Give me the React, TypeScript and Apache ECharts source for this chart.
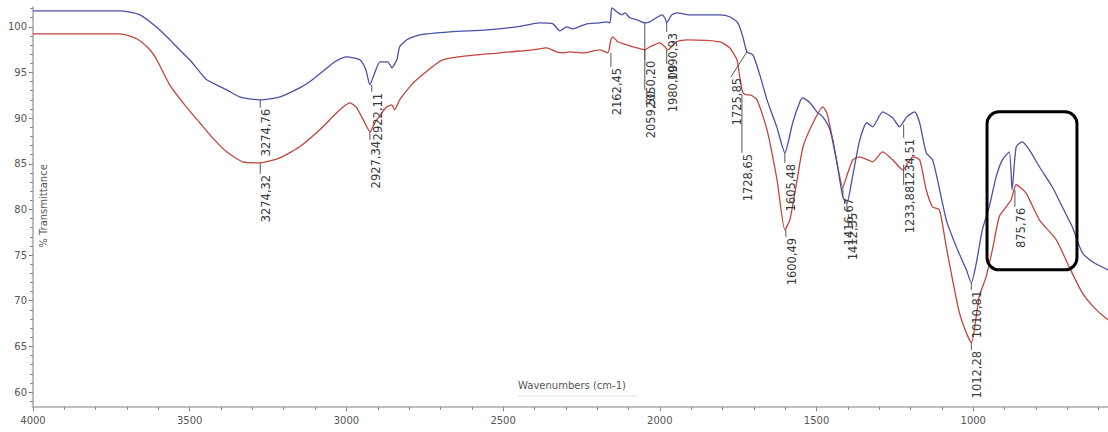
import React, { useEffect, useRef } from "react";
import * as echarts from "echarts";

// Spectrum 1 (blue) : [wavenumber cm-1, % transmittance]
const blueSpectrum: number[][] = [
  [4000, 101.75], [3723, 101.75], [3659, 101.31], [3596, 99.67], [3532, 97.48], [3500, 96.39],
  [3468, 95.07], [3446, 94.2], [3382, 93.1], [3341, 92.33], [3276, 92.0], [3212, 92.33],
  [3149, 93.32], [3117, 93.98], [3069, 95.29], [3037, 96.17], [2999, 96.71], [2957, 96.39],
  [2938, 95.29], [2925, 93.65], [2912, 94.74], [2893, 96.17], [2868, 96.17], [2855, 95.51],
  [2839, 96.39], [2830, 97.81], [2807, 98.58], [2766, 99.12], [2670, 99.45], [2552, 99.67],
  [2456, 100.0], [2383, 100.44], [2341, 100.33], [2319, 99.56], [2297, 100.0], [2278, 99.78],
  [2233, 100.33], [2191, 100.44], [2169, 100.55], [2159, 100.44], [2153, 102.08], [2137, 101.64],
  [2121, 101.31], [2111, 101.53], [2096, 100.99], [2073, 100.77], [2048, 100.44], [2032, 100.55],
  [2006, 101.1], [1994, 101.31], [1984, 100.99], [1978, 100.44], [1962, 101.31], [1946, 101.53],
  [1904, 101.31], [1808, 101.31], [1777, 101.1], [1751, 100.44], [1735, 98.9], [1722, 97.26],
  [1703, 96.93], [1681, 94.74], [1658, 92.0], [1626, 88.94], [1601, 86.2], [1576, 89.49],
  [1553, 91.79], [1544, 92.22], [1521, 91.68], [1499, 90.69], [1480, 90.14], [1457, 88.72],
  [1435, 85.1], [1416, 81.38], [1403, 80.72], [1387, 83.24], [1362, 87.62], [1340, 89.49],
  [1321, 89.05], [1289, 90.69], [1257, 90.03], [1235, 89.05], [1212, 90.14], [1187, 90.69],
  [1171, 89.49], [1150, 86.2], [1130, 85.43], [1114, 83.24], [1086, 78.86], [1054, 75.9],
  [1022, 73.38], [1006, 71.96], [990, 74.15], [971, 77.77], [949, 80.29], [927, 83.57],
  [907, 85.43], [885, 86.31], [876, 82.15], [863, 86.86], [844, 87.4], [821, 86.53],
  [789, 84.67], [748, 82.48], [716, 80.29], [684, 78.09], [652, 75.25], [620, 74.26], [570, 73.38],
];

// Spectrum 2 (red)
const redSpectrum: number[][] = [
  [4000, 99.23], [3723, 99.23], [3669, 98.69], [3627, 97.48], [3605, 96.39], [3564, 93.65],
  [3516, 91.46], [3468, 89.49], [3427, 87.84], [3382, 86.31], [3331, 85.21], [3276, 85.1],
  [3212, 85.65], [3149, 86.86], [3085, 88.72], [3021, 90.91], [2989, 91.68], [2967, 91.13],
  [2935, 89.05], [2925, 88.5], [2909, 89.49], [2887, 90.58], [2871, 91.24], [2855, 91.46],
  [2846, 90.91], [2830, 92.0], [2798, 93.43], [2776, 94.2], [2692, 96.39], [2510, 97.15],
  [2405, 97.48], [2361, 97.7], [2329, 97.26], [2310, 97.15], [2287, 97.26], [2245, 97.15],
  [2191, 97.48], [2166, 97.15], [2156, 98.58], [2150, 98.9], [2134, 98.36], [2105, 98.03],
  [2073, 97.7], [2048, 97.48], [2032, 97.81], [2000, 98.25], [1984, 97.81], [1975, 97.48],
  [1946, 98.36], [1914, 98.58], [1808, 98.36], [1777, 97.7], [1754, 96.39], [1745, 94.52],
  [1735, 92.77], [1722, 92.55], [1713, 92.55], [1690, 92.0], [1658, 88.72], [1626, 83.24],
  [1601, 77.77], [1585, 78.86], [1562, 83.24], [1543, 86.86], [1511, 89.49], [1480, 91.24],
  [1467, 90.58], [1448, 87.62], [1416, 82.48], [1400, 84.01], [1384, 85.43], [1362, 85.76],
  [1321, 85.21], [1289, 86.31], [1257, 85.43], [1225, 84.34], [1193, 85.76], [1171, 85.43],
  [1150, 82.15], [1130, 80.29], [1108, 79.96], [1086, 75.9], [1066, 72.29], [1044, 68.67],
  [1022, 66.48], [1006, 65.39], [981, 70.43], [959, 72.62], [939, 75.57], [917, 79.19],
  [895, 80.29], [879, 81.05], [863, 82.7], [832, 81.82], [789, 78.86], [735, 76.67],
  [694, 73.71], [652, 70.87], [607, 69.0], [570, 67.91],
];

// Peak annotations
const peakText = [
  "3274,76", "3274,32", "2922,11", "2927,34", "2162,45", "2050,20", "2059,50",
  "1990,93", "1980,00", "1725,85", "1728,65", "1605,48", "1600,49", "1412,35",
  "1416,67", "1234,51", "1233,88", "1010,81", "1012,28", "875,76",
];
// wavenumber where the marker line leaves the curve
const peakWave = [3275, 3275, 2919, 2925, 2156, 2048, 2048, 1978, 1978, 1722, 1738, 1601, 1598, 1403, 1416, 1222, 1222, 1006, 1006, 867];
// %T of the curve at that point
const peakCurveT = [92.0, 85.1, 93.65, 88.5, 97.15, 100.44, 97.48, 100.44, 97.48, 97.26, 92.55, 86.2, 77.77, 80.72, 82.48, 89.27, 84.9, 71.96, 65.39, 82.15];
// wavenumber where the marker line meets the label
const peakLabelWave = [3275, 3275, 2919, 2925, 2156, 2048, 2048, 1978, 1978, 1773, 1738, 1601, 1598, 1403, 1416, 1222, 1222, 1006, 1006, 867];
// %T of the top of the label
const peakLabelT = [91.13, 83.9, 92.88, 87.62, 95.62, 96.39, 93.1, 99.45, 95.95, 94.52, 86.2, 85.1, 77.0, 79.74, 81.38, 87.84, 82.7, 71.2, 64.62, 80.29];

// highlighted region (rounded box): [wave left, wave right], [%T top, %T bottom]
const boxWave = [956, 669];
const boxT = [90.69, 73.38];

const xMajorTicks = [4000, 3500, 3000, 2500, 2000, 1500, 1000];
const xMinorTicks = [
  4000, 3900, 3800, 3700, 3600, 3500, 3400, 3300, 3200, 3100, 3000, 2900, 2800, 2700, 2600,
  2500, 2400, 2300, 2200, 2100, 2000, 1900, 1800, 1700, 1600, 1500, 1400, 1300, 1200, 1100,
  1000, 900, 800, 700, 600,
];
const yMajorTicks = [60, 65, 70, 75, 80, 85, 90, 95, 100];
const yMinorTicks = [
  59, 60, 61, 62, 63, 64, 65, 66, 67, 68, 69, 70, 71, 72, 73, 74, 75, 76, 77, 78, 79, 80,
  81, 82, 83, 84, 85, 86, 87, 88, 89, 90, 91, 92, 93, 94, 95, 96, 97, 98, 99, 100, 101, 102,
];

const X_MIN = 570;
const X_MAX = 4000;
const Y_MIN = 58.36;
const Y_MAX = 102.17;

const FONT = "DejaVu Sans";
const BLUE = "#4b4fa6";
const RED = "#c2453f";

export default function App() {
  const ref = useRef<HTMLDivElement>(null);

  useEffect(() => {
    if (!ref.current) return;
    const chart = echarts.init(ref.current, null, { renderer: "svg" });

    const baseX = {
      type: "value" as const,
      min: X_MIN,
      max: X_MAX,
      inverse: true,
      position: "bottom" as const,
      splitLine: { show: false },
    };
    const baseY = {
      type: "value" as const,
      min: Y_MIN,
      max: Y_MAX,
      position: "left" as const,
      splitLine: { show: false },
    };

    chart.setOption({
      animation: false,
      backgroundColor: "#ffffff",
      grid: { left: 33, right: 0, top: 7, bottom: 25, containLabel: false },
      xAxis: [
        {
          ...baseX,
          axisLine: { show: true, lineStyle: { color: "#a9a9a9", width: 1.5 } },
          axisTick: { show: true, customValues: xMajorTicks, length: 4, lineStyle: { color: "#666" } },
          axisLabel: {
            show: true,
            customValues: xMajorTicks,
            formatter: (v: number) => String(Math.round(v)),
            margin: 8,
            color: "#555",
            fontFamily: FONT,
            fontSize: 10,
          },
        },
        {
          ...baseX,
          axisLine: { show: false },
          axisTick: { show: true, customValues: xMinorTicks, length: 3, lineStyle: { color: "#888" } },
          axisLabel: { show: false },
        },
      ],
      yAxis: [
        {
          ...baseY,
          axisLine: { show: true, lineStyle: { color: "#a9a9a9", width: 1.5 } },
          axisTick: { show: true, customValues: yMajorTicks, length: 4, lineStyle: { color: "#666" } },
          axisLabel: {
            show: true,
            customValues: yMajorTicks,
            formatter: (v: number) => String(Math.round(v)),
            margin: 6,
            color: "#555",
            fontFamily: FONT,
            fontSize: 10,
          },
        },
        {
          ...baseY,
          axisLine: { show: false },
          axisTick: { show: true, customValues: yMinorTicks, length: 3, lineStyle: { color: "#888" } },
          axisLabel: { show: false },
        },
      ],
      series: [
        {
          type: "line",
          data: blueSpectrum,
          xAxisIndex: 0,
          yAxisIndex: 0,
          showSymbol: false,
          smooth: 0.2,
          lineStyle: { color: BLUE, width: 1.3 },
          z: 3,
        },
        {
          type: "line",
          data: redSpectrum,
          xAxisIndex: 0,
          yAxisIndex: 0,
          showSymbol: false,
          smooth: 0.2,
          lineStyle: { color: RED, width: 1.3 },
          z: 2,
        },
      ],
    });

    const px = (w: number, t: number) =>
      chart.convertToPixel({ xAxisIndex: 0, yAxisIndex: 0 }, [w, t]) as number[];

    const graphics: any[] = [];
    peakText.forEach((txt, i) => {
      const a = px(peakWave[i], peakCurveT[i]);
      const b = px(peakLabelWave[i], peakLabelT[i]);
      graphics.push({
        type: "line",
        shape: { x1: a[0], y1: a[1], x2: b[0], y2: b[1] },
        style: { stroke: "#555", lineWidth: 1 },
        z: 10,
      });
      graphics.push({
        type: "text",
        x: b[0] + 6,
        y: b[1] + 1,
        rotation: Math.PI / 2,
        style: {
          text: txt,
          fill: "#3a3a3a",
          font: `11.5px "${FONT}"`,
          align: "right",
          verticalAlign: "middle",
        },
        z: 11,
      });
    });

    const b1 = px(boxWave[0], boxT[0]);
    const b2 = px(boxWave[1], boxT[1]);
    graphics.push({
      type: "rect",
      shape: { x: b1[0], y: b1[1], width: b2[0] - b1[0], height: b2[1] - b1[1], r: 12 },
      style: { fill: "none", stroke: "#000", lineWidth: 3 },
      z: 12,
    });

    graphics.push({
      type: "text",
      x: 43,
      y: 206,
      rotation: Math.PI / 2,
      style: {
        text: "% Transmittance",
        fill: "#555",
        font: `10px "${FONT}"`,
        align: "center",
        verticalAlign: "middle",
      },
      z: 11,
    });
    graphics.push({
      type: "text",
      x: 572,
      y: 385,
      style: {
        text: "Wavenumbers (cm-1)",
        fill: "#555",
        font: `10px "${FONT}"`,
        align: "center",
        verticalAlign: "middle",
      },
      z: 11,
    });
    graphics.push({
      type: "line",
      shape: { x1: 517, y1: 396, x2: 637, y2: 396 },
      style: { stroke: "#e2e2e2", lineWidth: 1 },
      z: 11,
    });

    chart.setOption({ graphic: graphics });

    return () => chart.dispose();
  }, []);

  return (
    <div
      ref={ref}
      style={{ position: "fixed", left: 0, top: 0, width: 1108, height: 432, background: "#fff" }}
    />
  );
}
